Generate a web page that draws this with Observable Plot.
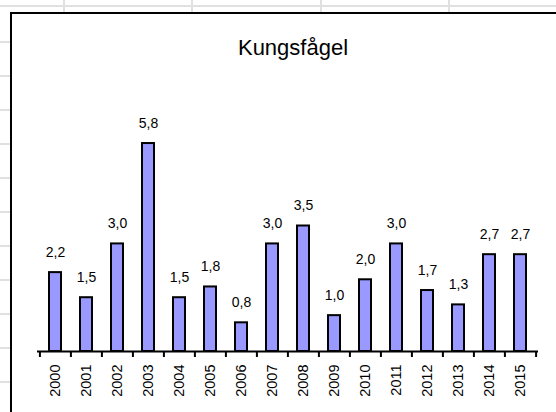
<!DOCTYPE html>
<html>
<head>
<meta charset="utf-8">
<script src="https://cdn.jsdelivr.net/npm/d3@7"></script>
<script src="https://cdn.jsdelivr.net/npm/@observablehq/plot@0.6"></script>
<style>
  html, body { margin: 0; padding: 0; background: #ffffff; }
  #wrap { position: relative; width: 556px; height: 412px; overflow: hidden; background: #ffffff; font-family: "Liberation Sans", Arial, sans-serif; }
  .gl { position: absolute; background: #e0e0e0; }
  #box { position: absolute; left: 10px; top: 12px; width: 700px; height: 600px; border: 2px solid #000; background: #fff; box-sizing: border-box; }
  #title { position: absolute; left: 0; width: 586px; top: 35px; text-align: center; font-size: 22px; color: #000; line-height: 25px; }
  #chart { position: absolute; left: 0; top: 0; }
</style>
</head>
<body>
<div id="wrap">
  <div id="box"></div>
  <div id="title">Kungsfågel</div>
  <div id="chart"></div>
</div>
<script>
const years = ["2000","2001","2002","2003","2004","2005","2006","2007","2008","2009","2010","2011","2012","2013","2014","2015"];
const values = [2.2, 1.5, 3.0, 5.8, 1.5, 1.8, 0.8, 3.0, 3.5, 1.0, 2.0, 3.0, 1.7, 1.3, 2.7, 2.7];
const titleText = "Kungsfågel";

const data = years.map((y, i) => ({year: y, value: values[i]}));
const fmt = v => d3.format(".1f")(v).replace(".", ",");

// spreadsheet gridlines (decoration outside the chart box)
const wrap = document.getElementById("wrap");
function gl(l, t, w, h) {
  const d = document.createElement("div");
  d.className = "gl";
  Object.assign(d.style, {left: l + "px", top: t + "px", width: w + "px", height: h + "px"});
  wrap.insertBefore(d, wrap.firstChild);
}
gl(0, 5, 556, 2);
[63, 191, 320, 448].forEach(x => gl(x, 0, 2, 12));
for (let y = 42; y < 412; y += 34) gl(0, y - 1, 10, 2);

document.getElementById("title").textContent = titleText;

const W = 556, H = 412;
const mL = 38, mR = 19, mT = 100, mB = 61;
const bw = (W - mL - mR) / years.length;
const tickLen = 6;
const yMax = 7;

const chart = Plot.plot({
  width: W,
  height: H,
  marginLeft: mL,
  marginRight: mR,
  marginTop: mT,
  marginBottom: mB,
  style: {background: "transparent", fontFamily: "Liberation Sans, Arial, sans-serif", color: "#000"},
  x: {type: "band", domain: years, paddingInner: 0.6, paddingOuter: 0.3, align: 0.5, axis: null},
  y: {domain: [0, yMax], axis: null},
  marks: [
    Plot.barY(data, {x: "year", y: "value", fill: "#9999ff", stroke: "#000", strokeWidth: 2}),
    Plot.ruleY([0], {stroke: "#000", strokeWidth: 2, insetLeft: -1, insetRight: -1}),
    Plot.ruleX(years, {x: d => d, y1: 0, y2: 0, dx: -bw / 2, insetBottom: -tickLen, stroke: "#000", strokeWidth: 2}),
    Plot.ruleX(years.slice(-1), {x: d => d, y1: 0, y2: 0, dx: bw / 2, insetBottom: -tickLen, stroke: "#000", strokeWidth: 2}),
    Plot.text(data, {x: "year", y: "value", text: d => fmt(d.value), dy: -20, fontSize: 14, fill: "#000"}),
    Plot.text(years, {x: d => d, y: 0, text: d => d, rotate: -90, textAnchor: "end", lineAnchor: "middle", dy: 13, fontSize: 14.5, fill: "#000"})
  ]
});
document.getElementById("chart").appendChild(chart);
</script>
</body>
</html>
